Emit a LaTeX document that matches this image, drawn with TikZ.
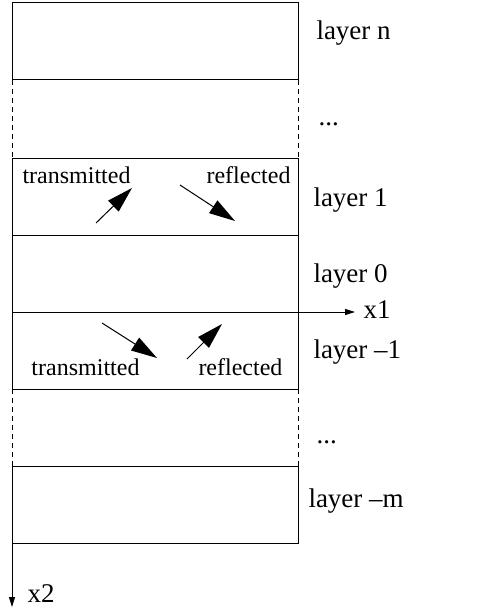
\documentclass[tikz,border=0pt]{standalone}
\usepackage{fontspec}
\setmainfont{Liberation Serif}
\usetikzlibrary{arrows.meta}
\begin{document}
\begin{tikzpicture}[x=0.5pt,y=-0.5pt,
  line width=0.5pt,
  lbl/.style={font=\fontsize{13.5}{15}\selectfont, inner sep=0pt, anchor=base west},
  small/.style={font=\fontsize{12}{14}\selectfont, inner sep=0pt},
  bigarrow/.style={-{Triangle[length=13pt,width=7.5pt]}},
  axisarrow/.style={-{Triangle[length=5pt,width=3pt]}},
  dsh/.style={dash pattern=on 2.5pt off 2pt}]
\useasboundingbox (0,0) rectangle (486,610);
% boxes
\draw (12,3) rectangle (298,80);
\draw[dsh] (12,80) -- (12,158) (298,80) -- (298,158);
\draw (12,158) rectangle (298,235);
\draw (12,235) -- (12,312) (298,235) -- (298,312);
\draw (12,312) rectangle (298,389);
\draw[dsh] (12,389) -- (12,466) (298,389) -- (298,466);
\draw (12,466) rectangle (298,543);
% axes
\coordinate (o1) at (12,312);
\coordinate (x1end) at (355,312);
\coordinate (o2) at (12,543);
\coordinate (x2end) at (12,607);
\draw[axisarrow] (o1) -- (x1end);
\draw[axisarrow] (o2) -- (x2end);
\node[lbl] (lx1) at (363,318) {x1};
\node[lbl] (lx2) at (27,602) {x2};
% labels
\node[lbl] (ln) at (316,40) {layer n};
\node[lbl] (ld1) at (318,126) {...};
\node[lbl] (l1) at (313,206) {layer 1};
\node[lbl] (l0) at (313,282) {layer 0};
\node[lbl] (lm1) at (313,358) {layer \textendash1};
\node[lbl] (ld2) at (316,443) {...};
\node[lbl] (lm) at (308,507) {layer \textendash m};
% layer 1 arrows
\node[small, anchor=base west] (t1) at (22,184) {transmitted};
\node[small, anchor=base east] (r1) at (291,184) {reflected};
\coordinate (a1s) at (96,223);
\coordinate (a1e) at (132,188);
\coordinate (b1s) at (180,185);
\coordinate (b1e) at (235,221);
\draw[bigarrow] (a1s) -- (a1e);
\draw[bigarrow] (b1s) -- (b1e);
% layer -1 arrows
\node[small, anchor=base west] (t2) at (31,375) {transmitted};
\node[small, anchor=base west] (r2) at (198,375) {reflected};
\coordinate (a2s) at (102,323);
\coordinate (a2e) at (157,358);
\coordinate (b2s) at (187,359);
\coordinate (b2e) at (222,324);
\draw[bigarrow] (a2s) -- (a2e);
\draw[bigarrow] (b2s) -- (b2e);
\end{tikzpicture}
\end{document}
